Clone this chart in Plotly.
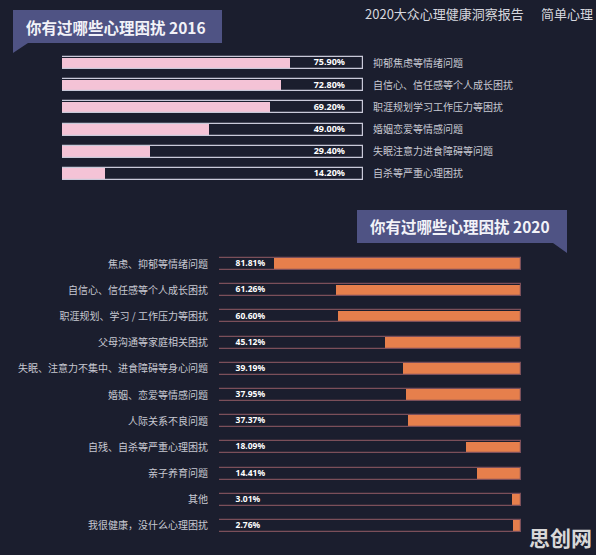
import plotly.graph_objects as go

W, H = 596, 555

# ---- data ----
cats_2016 = ["抑郁焦虑等情绪问题", "自信心、信任感等个人成长困扰", "职涯规划学习工作压力等困扰",
             "婚姻恋爱等情感问题", "失眠注意力进食障碍等问题", "自杀等严重心理困扰"]
vals_2016 = [75.90, 72.80, 69.20, 49.00, 29.40, 14.20]

cats_2020 = ["焦虑、抑郁等情绪问题", "自信心、信任感等个人成长困扰", "职涯规划、学习 / 工作压力等困扰",
             "父母沟通等家庭相关困扰", "失眠、注意力不集中、进食障碍等身心问题", "婚姻、恋爱等情感问题",
             "人际关系不良问题", "自残、自杀等严重心理困扰", "亲子养育问题", "其他", "我很健康，没什么心理困扰"]
vals_2020 = [81.81, 61.26, 60.60, 45.12, 39.19, 37.95, 37.37, 18.09, 14.41, 3.01, 2.76]

BG = "#1b1e2e"
PINK = "#f4c3d6"
ORANGE = "#e67f4c"
FONT = "Noto Sans CJK SC"


def px(x):
    return x / W


def py(y):
    return 1 - y / H


fig = go.Figure()

# ---- 2016 (top) ----
full16 = [100] * len(cats_2016)
fig.add_trace(go.Bar(y=cats_2016, x=full16, orientation="h", width=0.52,
                     marker=dict(color=BG, line=dict(width=0)), xaxis="x", yaxis="y",
                     hoverinfo="skip", showlegend=False))
fig.add_trace(go.Bar(y=cats_2016, x=vals_2016, orientation="h", width=0.5,
                     marker=dict(color=PINK, line=dict(width=0)), xaxis="x", yaxis="y",
                     showlegend=False))
fig.add_trace(go.Bar(y=cats_2016, x=full16, orientation="h", width=0.54,
                     marker=dict(color="rgba(0,0,0,0)", line=dict(width=1.2, color="#c9c9d9")),
                     xaxis="x", yaxis="y", hoverinfo="skip", showlegend=False))
fig.add_trace(go.Scatter(y=cats_2016, x=[94] * len(cats_2016), mode="text",
                         text=["<b>%.2f%%</b>" % v for v in vals_2016],
                         textposition="middle left", textfont=dict(size=9, color="#ffffff", family="Noto Sans"),
                         xaxis="x", yaxis="y", showlegend=False, hoverinfo="skip"))

# ---- 2020 (bottom) ----
full20 = [100] * len(cats_2020)
fig.add_trace(go.Bar(y=cats_2020, x=full20, orientation="h", width=0.44,
                     marker=dict(color=BG, line=dict(width=0)), xaxis="x2", yaxis="y2",
                     hoverinfo="skip", showlegend=False))
fig.add_trace(go.Bar(y=cats_2020, x=vals_2020, base=[100 - v for v in vals_2020], orientation="h",
                     width=0.44, marker=dict(color=ORANGE, line=dict(width=0)),
                     xaxis="x2", yaxis="y2", showlegend=False))
fig.add_trace(go.Bar(y=cats_2020, x=full20, orientation="h", width=0.46,
                     marker=dict(color="rgba(0,0,0,0)", line=dict(width=1.2, color="#7b4f5a")),
                     xaxis="x2", yaxis="y2", hoverinfo="skip", showlegend=False))
fig.add_trace(go.Scatter(y=cats_2020, x=[5.5] * len(cats_2020), mode="text",
                         text=["<b>%.2f%%</b>" % v for v in vals_2020],
                         textposition="middle right", textfont=dict(size=8.5, color="#ffffff", family="Noto Sans"),
                         xaxis="x2", yaxis="y2", showlegend=False, hoverinfo="skip"))

fig.update_layout(
    width=W, height=H, margin=dict(l=0, r=0, t=0, b=0),
    paper_bgcolor=BG, plot_bgcolor=BG, barmode="overlay", bargap=0,
    font=dict(family=FONT, color="#c8c9d2"),
    xaxis=dict(domain=[px(62), px(363)], range=[0, 100], visible=False, fixedrange=True),
    yaxis=dict(domain=[py(185), py(52)], categoryorder="array", categoryarray=cats_2016,
               range=[5.5, -0.5], side="right", showgrid=False, zeroline=False, showline=False,
               ticks="", ticklabelstandoff=9, tickfont=dict(size=10, color="#c8c9d2", family=FONT),
               anchor="x"),
    xaxis2=dict(domain=[px(219), px(521)], range=[0, 100], visible=False, anchor="y2", fixedrange=True),
    yaxis2=dict(domain=[py(539), py(251)], categoryorder="array", categoryarray=cats_2020,
                range=[10.5, -0.5], side="left", showgrid=False, zeroline=False, showline=False,
                ticks="", ticklabelstandoff=10, tickfont=dict(size=10, color="#c8c9d2", family=FONT),
                anchor="x2"),
)

# title tabs
TAB = "#4f5384"
def path(points):
    s = "M " + " L ".join("%f,%f" % (px(x), py(y)) for x, y in points) + " Z"
    return s

fig.add_shape(type="path", xref="paper", yref="paper", line=dict(width=0), fillcolor=TAB,
              path=path([(13, 10), (222, 10), (222, 43), (28, 43), (13, 53)]))
fig.add_shape(type="path", xref="paper", yref="paper", line=dict(width=0), fillcolor=TAB,
              path=path([(357, 210), (567, 210), (567, 253), (553, 243), (357, 243)]))

fig.add_annotation(xref="paper", yref="paper", x=px(116), y=py(27), text="<b>你有过哪些心理困扰 2016</b>",
                   showarrow=False, xanchor="center", yanchor="middle",
                   font=dict(size=15.5, color="#f2f2f8", family=FONT))
fig.add_annotation(xref="paper", yref="paper", x=px(460), y=py(226), text="<b>你有过哪些心理困扰 2020</b>",
                   showarrow=False, xanchor="center", yanchor="middle",
                   font=dict(size=15.5, color="#f2f2f8", family=FONT))

# header
fig.add_annotation(xref="paper", yref="paper", x=px(363), y=py(14), text="2020大众心理健康洞察报告",
                   showarrow=False, xanchor="left", yanchor="middle",
                   font=dict(size=13, color="#d6d7de", family=FONT))
fig.add_annotation(xref="paper", yref="paper", x=px(539), y=py(14), text="简单心理",
                   showarrow=False, xanchor="left", yanchor="middle",
                   font=dict(size=13, color="#d6d7de", family=FONT))

# watermark
fig.add_annotation(xref="paper", yref="paper", x=px(560), y=py(537), text="<b>思创网</b>",
                   showarrow=False, xanchor="center", yanchor="middle",
                   font=dict(size=21, color="#d8d8d8", family=FONT))

fig.write_html("out.html")
